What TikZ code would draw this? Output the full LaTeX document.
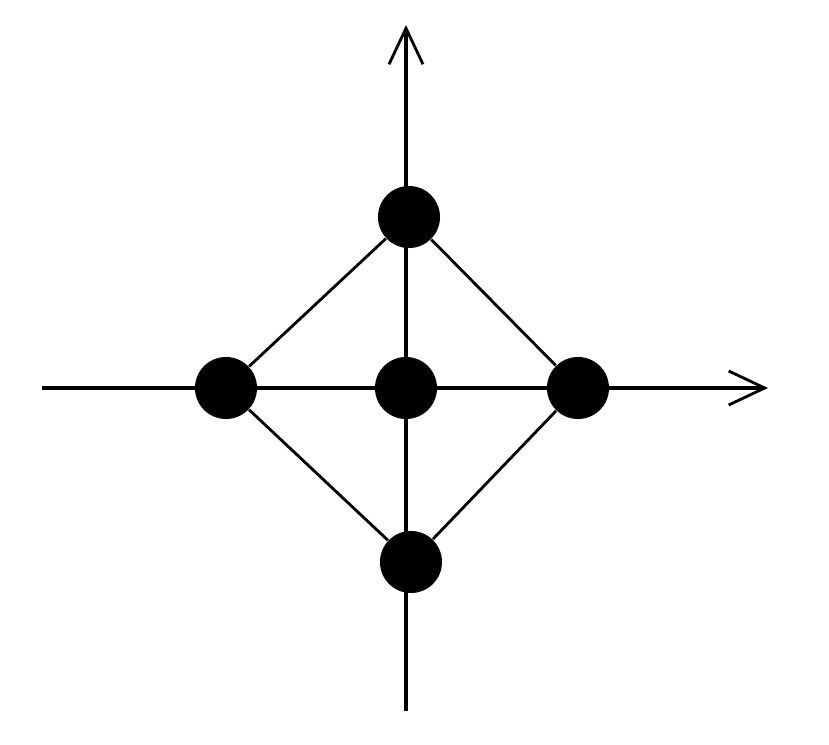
\documentclass[tikz,border=0pt]{standalone}
\usetikzlibrary{arrows.meta}
\begin{document}
\begin{tikzpicture}[x=0.01cm,y=-0.01cm,
  dot/.style={circle,fill=black,minimum size=0.62cm,inner sep=0pt},
  axis/.style={line width=1.1pt,-{Straight Barb[length=0.36cm,width=0.34cm,line width=0.8pt]}},
  edge/.style={line width=0.8pt}]
\useasboundingbox (0,0) rectangle (829,745);
\coordinate (xl) at (42,388);
\coordinate (xr) at (768,388);
\coordinate (yb) at (406,711);
\coordinate (yt) at (406,25);
\node[dot] (t) at (409,217) {};
\node[dot] (l) at (226,388) {};
\node[dot] (c) at (406,388) {};
\node[dot] (r) at (578,388) {};
\node[dot] (b) at (411,562) {};
\draw[edge] (t) -- (l) -- (b) -- (r) -- (t);
\draw[axis] (xl) -- (xr);
\draw[axis] (yb) -- (yt);
\end{tikzpicture}
\end{document}
